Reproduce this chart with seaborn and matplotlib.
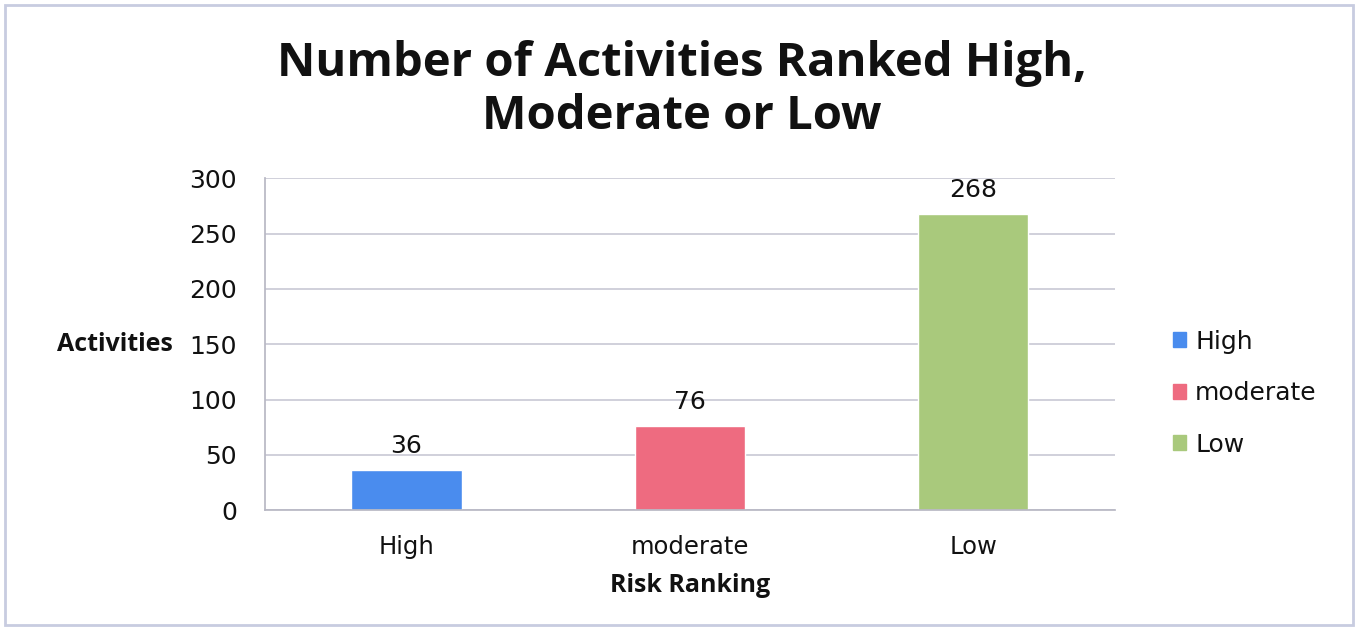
import matplotlib
matplotlib.use("Agg")
import matplotlib.pyplot as plt
from matplotlib.patches import Rectangle
import seaborn as sns
import pandas as pd

categories = ["High", "moderate", "Low"]
activities = [36, 76, 268]
colors = ["#4A8CEE", "#EE6B80", "#A9C97C"]
y_ticks = [0, 50, 100, 150, 200, 250, 300]

sns.set_theme(style="white")
plt.rcParams["font.family"] = ["DejaVu Sans"]
plt.rcParams["text.color"] = "#111111"
bold_font = ["Open Sans", "DejaVu Sans"]

df = pd.DataFrame({"Risk Ranking": categories, "Activities": activities})

fig = plt.figure(figsize=(13.58, 6.3), dpi=100)
ax = fig.add_axes([0.195, 0.19, 0.626, 0.527])

sns.barplot(data=df, x="Risk Ranking", y="Activities", hue="Risk Ranking",
            palette=colors, width=0.39, ax=ax, legend=False, saturation=1)

ax.set_ylim(0, 300)
ax.set_yticks(y_ticks)
ax.set_yticklabels([str(t) for t in y_ticks], fontsize=18)
ax.tick_params(axis="x", labelsize=17.5, pad=12, colors="#111111")
ax.tick_params(axis="y", pad=14, colors="#111111")
ax.yaxis.grid(True, color="#C8C8D4", linewidth=1.2)
ax.set_axisbelow(True)
for s in ["top", "right"]:
    ax.spines[s].set_visible(False)
ax.spines["left"].set_color("#B8B8C4")
ax.spines["bottom"].set_color("#B8B8C4")

for p, v in zip(ax.patches, activities):
    ax.text(p.get_x() + p.get_width() / 2, v + 11, str(v), ha="center",
            va="bottom", fontsize=18, color="#111111")

ax.set_xlabel("Risk Ranking", fontsize=18, fontweight="bold", labelpad=10,
              family=bold_font, color="#111111")
ax.set_ylabel("Activities", fontsize=18, fontweight="bold", rotation=0,
              labelpad=12, va="center", ha="right", family=bold_font,
              color="#111111")

fig.suptitle("Number of Activities Ranked High,\nModerate or Low",
             x=0.502, y=0.936, fontsize=34, fontweight="bold", linespacing=1.15,
             family=bold_font, color="#111111")

handles = [Rectangle((0, 0), 1, 1, color=c) for c in colors]
fig.legend(handles, categories, loc="center left", bbox_to_anchor=(0.847, 0.376),
           frameon=False, fontsize=18, handlelength=0.55, handleheight=0.55,
           labelspacing=1.1, handletextpad=0.35)

fig.patches.append(Rectangle((0.004, 0.008), 0.992, 0.984, transform=fig.transFigure,
                             fill=False, edgecolor="#C8CCE0", linewidth=2))

fig.savefig("out.png", dpi=100)
